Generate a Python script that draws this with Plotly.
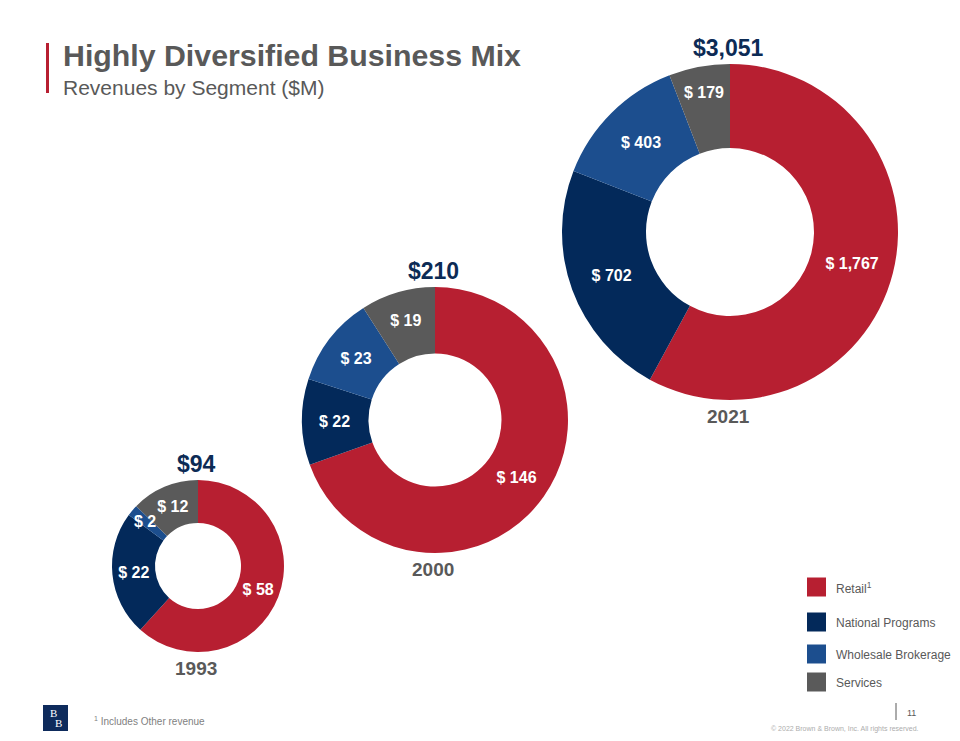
import math
import plotly.graph_objects as go

# ---------------- data ----------------
segments = ["Retail", "National Programs", "Wholesale Brokerage", "Services"]
years = ["1993", "2000", "2021"]
rev_1993 = [58, 22, 2, 12]
rev_2000 = [146, 22, 23, 19]
rev_2021 = [1767, 702, 403, 179]
revenues = [rev_1993, rev_2000, rev_2021]
legend_labels = ["Retail<sup>1</sup>", "National Programs", "Wholesale Brokerage", "Services"]

# ---------------- styles ----------------
seg_colors = ["#B71F31", "#03295A", "#1C4E8E", "#5A5A5A"]
W, H = 960, 741
FONT = "Liberation Sans, Arial, Helvetica, sans-serif"
NAVY = "#0C2B55"
GRAY = "#595959"
# donut centre x, centre y, radius (pixels)
donut_geo = [(198, 566, 86), (435, 420, 133), (730, 232, 168)]
SMALL_SLICE = 0.05  # slices thinner than this get their label drawn on top


def px(x):
    return x / W


def py(y):
    return 1 - y / H


fig = go.Figure()
annotations = []
shapes = []

for yr, vals, (cx, cy, r) in zip(years, revenues, donut_geo):
    total = sum(vals)
    texts = []
    cum = 0
    for v in vals:
        frac = v / total
        if frac < SMALL_SLICE:
            texts.append("")
            theta = 2 * math.pi * (cum + v / 2) / total
            rr = 0.8 * r
            annotations.append(dict(
                x=px(cx + rr * math.sin(theta)), y=py(cy - rr * math.cos(theta)),
                xref="paper", yref="paper", text=f"<b>$ {v:,}</b>", showarrow=False,
                font=dict(family=FONT, size=16, color="white"),
                xanchor="center", yanchor="middle"))
        else:
            texts.append(f"<b>$ {v:,}</b>")
        cum += v
    fig.add_trace(go.Pie(
        labels=segments,
        values=vals,
        text=texts,
        textinfo="text",
        sort=False,
        direction="clockwise",
        rotation=0,
        hole=0.5,
        marker=dict(colors=seg_colors, line=dict(width=0)),
        textposition="inside",
        insidetextorientation="horizontal",
        insidetextfont=dict(family=FONT, size=16, color="white"),
        hoverinfo="skip",
        showlegend=False,
        domain=dict(x=[px(cx - r), px(cx + r)], y=[py(cy + r), py(cy - r)]),
    ))
    annotations.append(dict(
        x=px(cx - 2), y=py(cy - r - 16), xref="paper", yref="paper",
        text=f"<b>${total:,}</b>", showarrow=False,
        font=dict(family=FONT, size=23, color=NAVY),
        xanchor="center", yanchor="middle"))
    annotations.append(dict(
        x=px(cx - 2), y=py(cy + r + 16), xref="paper", yref="paper",
        text=f"<b>{yr}</b>", showarrow=False,
        font=dict(family=FONT, size=19, color=GRAY),
        xanchor="center", yanchor="middle"))

# title block
shapes.append(dict(type="rect", xref="paper", yref="paper",
                   x0=px(46), x1=px(49), y0=py(93), y1=py(43),
                   fillcolor="#B71F31", line=dict(width=0)))
annotations.append(dict(x=px(61), y=py(55), xref="paper", yref="paper",
                        text="<b>Highly Diversified Business Mix</b>", showarrow=False,
                        font=dict(family=FONT, size=30.3, color=GRAY),
                        xanchor="left", yanchor="middle"))
annotations.append(dict(x=px(61), y=py(87), xref="paper", yref="paper",
                        text="Revenues by Segment ($M)", showarrow=False,
                        font=dict(family=FONT, size=21, color=GRAY),
                        xanchor="left", yanchor="middle"))

# legend
legend_rows = [587, 622, 654, 682]
for lab, col, ly in zip(legend_labels, seg_colors, legend_rows):
    shapes.append(dict(type="rect", xref="paper", yref="paper",
                       x0=px(807), x1=px(826), y0=py(ly + 9.5), y1=py(ly - 9.5),
                       fillcolor=col, line=dict(width=0)))
    annotations.append(dict(x=px(834), y=py(ly + 1), xref="paper", yref="paper",
                            text=lab, showarrow=False,
                            font=dict(family=FONT, size=12, color=GRAY),
                            xanchor="left", yanchor="middle"))

# footer
shapes.append(dict(type="rect", xref="paper", yref="paper",
                   x0=px(43), x1=px(68), y0=py(731), y1=py(705),
                   fillcolor="#0E2B5C", line=dict(width=0)))
annotations.append(dict(x=px(53), y=py(713), xref="paper", yref="paper",
                        text="B", showarrow=False,
                        font=dict(family="Liberation Serif, DejaVu Serif, serif", size=11, color="white"),
                        xanchor="center", yanchor="middle"))
annotations.append(dict(x=px(58), y=py(723), xref="paper", yref="paper",
                        text="B", showarrow=False,
                        font=dict(family="Liberation Serif, DejaVu Serif, serif", size=11, color="white"),
                        xanchor="center", yanchor="middle"))
annotations.append(dict(x=px(92), y=py(721), xref="paper", yref="paper",
                        text="<sup>1</sup> Includes Other revenue", showarrow=False,
                        font=dict(family=FONT, size=10, color="#7F7F7F"),
                        xanchor="left", yanchor="middle"))
shapes.append(dict(type="line", xref="paper", yref="paper",
                   x0=px(896), x1=px(896), y0=py(720), y1=py(703),
                   line=dict(color="#595959", width=1)))
annotations.append(dict(x=px(911), y=py(713), xref="paper", yref="paper",
                        text="11", showarrow=False,
                        font=dict(family=FONT, size=9, color="#595959"),
                        xanchor="center", yanchor="middle"))
annotations.append(dict(x=px(921), y=py(729), xref="paper", yref="paper",
                        text="© 2022 Brown & Brown, Inc. All rights reserved.", showarrow=False,
                        font=dict(family=FONT, size=7, color="#ADADAD"),
                        xanchor="right", yanchor="middle"))

fig.update_layout(
    width=W, height=H,
    margin=dict(l=0, r=0, t=0, b=0),
    paper_bgcolor="white", plot_bgcolor="white",
    annotations=annotations,
    shapes=shapes,
    showlegend=False,
)

fig.write_html(
    "out.html",
    config={"displayModeBar": False},
    post_script="document.body.style.margin='0';document.body.style.overflow='hidden';",
)
